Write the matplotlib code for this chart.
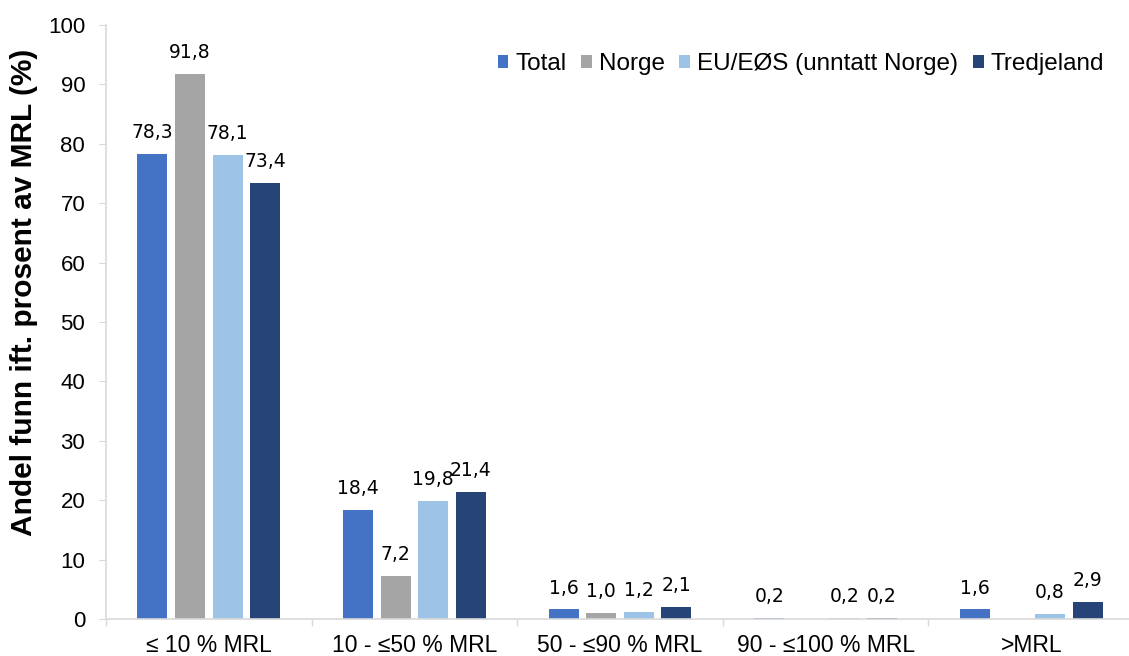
import numpy as np
import matplotlib
matplotlib.use("Agg")
import matplotlib.pyplot as plt
from matplotlib.ticker import FixedLocator, NullFormatter

categories = ["≤ 10 % MRL", "10 - ≤50 % MRL", "50 - ≤90 % MRL", "90 - ≤100 % MRL", ">MRL"]
series_names = ["Total", "Norge", "EU/EØS (unntatt Norge)", "Tredjeland"]
total = [78.3, 18.4, 1.6, 0.2, 1.6]
norge = [91.8, 7.2, 1.0, np.nan, np.nan]
eu_eos = [78.1, 19.8, 1.2, 0.2, 0.8]
tredjeland = [73.4, 21.4, 2.1, 0.2, 2.9]
colors = ["#4472C4", "#A5A5A5", "#9DC3E6", "#264478"]

plt.rcParams["font.family"] = ["Liberation Sans", "DejaVu Sans"]

W, H = 1129, 656
fig = plt.figure(figsize=(W / 100, H / 100), dpi=100)
ax = fig.add_axes([106 / W, 1 - 619 / H, 1028 / W, 594 / H])

x = np.arange(len(categories))
width = 0.146
step = 0.183
all_series = [total, norge, eu_eos, tredjeland]

for i, (name, vals, col) in enumerate(zip(series_names, all_series, colors)):
    offs = (i - 1.5) * step
    vals = np.array(vals, dtype=float)
    ax.bar(x + offs, np.nan_to_num(vals), width, color=col, label=name)
    for xi, v in zip(x, vals):
        if np.isnan(v):
            continue
        ax.annotate(f"{v:.1f}".replace(".", ","), (xi + offs, v),
                    xytext=(0, 11.5), textcoords="offset points",
                    ha="center", va="baseline", fontsize=13.5,
                    family=["DejaVu Sans"], color="#000000")

ax.set_xlim(-0.5, len(categories) - 0.5)
ax.set_ylim(0, 100)
ax.set_yticks(np.arange(0, 101, 10))
ax.tick_params(axis="y", labelsize=16, length=5, color="#D9D9D9", pad=10)

ax.set_xticks(x)
ax.set_xticklabels(categories, fontsize=16.5)
ax.tick_params(axis="x", which="major", length=0, pad=11)
ax.xaxis.set_minor_locator(FixedLocator(np.arange(-0.5, len(categories), 1.0)))
ax.xaxis.set_minor_formatter(NullFormatter())
ax.tick_params(axis="x", which="minor", length=5, color="#D9D9D9", width=1)

for side in ["top", "right"]:
    ax.spines[side].set_visible(False)
for side in ["left", "bottom"]:
    ax.spines[side].set_color("#D9D9D9")
    ax.spines[side].set_linewidth(1.2)

ax.set_ylabel("Andel funn ift. prosent av MRL (%)", fontsize=21.5, fontweight="bold")
ax.yaxis.set_label_coords((38 - 106) / 1028, (619 - 292.5) / 594)

ax.legend(loc="center right", bbox_to_anchor=(1116 / W, 1 - 64 / H),
          bbox_transform=fig.transFigure, ncol=4, frameon=False, borderpad=0,
          fontsize=17.5, handlelength=0.45, handleheight=0.45, handletextpad=0.28,
          columnspacing=0.6)

fig.savefig("out.png", dpi=100)
